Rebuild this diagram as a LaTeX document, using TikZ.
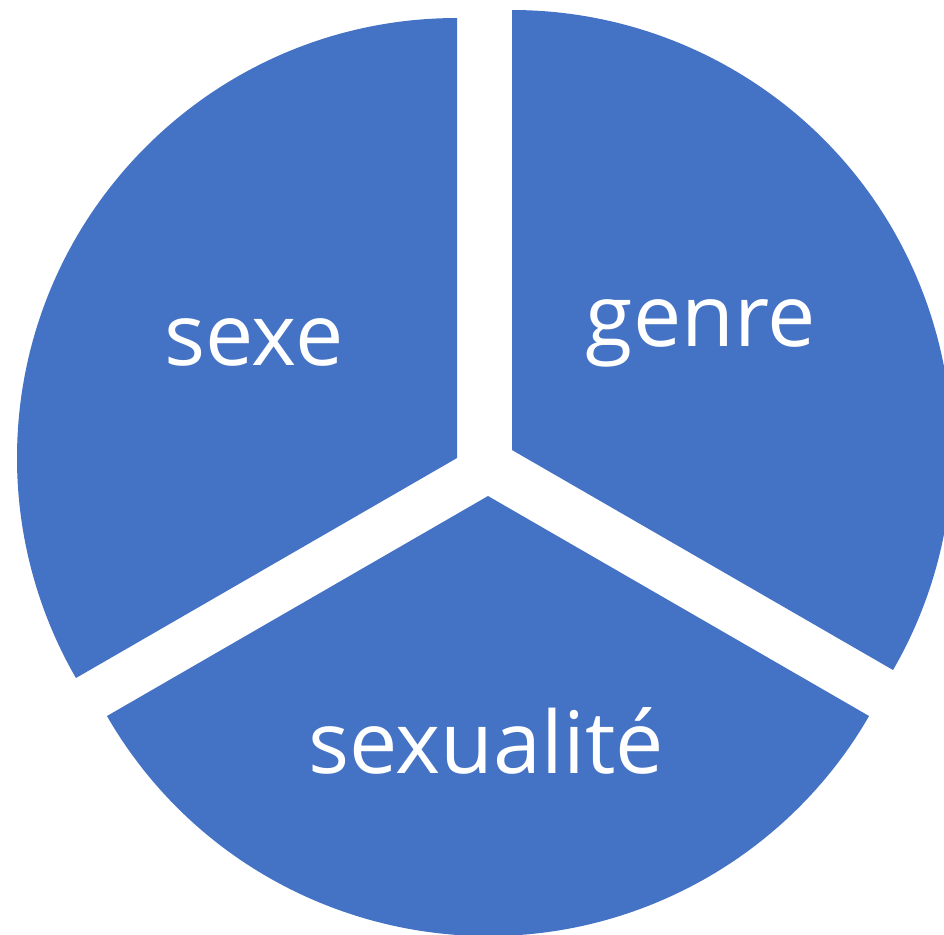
\documentclass[tikz,border=0pt]{standalone}
\usepackage{fontspec}
\setmainfont{Open Sans}
\definecolor{pieblue}{HTML}{4472C4}
\begin{document}
\begin{tikzpicture}[
  slice/.style={fill=pieblue},
  lbl/.style={text=white, font=\fontsize{24.5}{30}\selectfont, anchor=base,
              inner sep=0pt}
]
\useasboundingbox (0,0) rectangle (9.44,-9.34);
\clip (0,0) rectangle (9.44,-9.34);
% ---------------- slice tips ----------------
\coordinate (tsexe) at (4.57,-4.58);
\coordinate (tgenre) at (5.12,-4.50);
\coordinate (tsexu) at (4.88,-4.96);
% ---------------- slices ----------------
\fill[slice] (tsexe) -- ++(90:4.40)
  arc[start angle=90, end angle=210, radius=4.40] -- cycle;
\fill[slice] (tgenre) -- ++(-30:4.40)
  arc[start angle=-30, end angle=90, radius=4.40] -- cycle;
\fill[slice] (tsexu) -- ++(210:4.40)
  arc[start angle=210, end angle=330, radius=4.40] -- cycle;
% ---------------- labels ----------------
\node[lbl] (sexe) at (2.54,-3.65) {sexe};
\node[lbl] (genre) at (7.01,-3.46) {genre};
\node[lbl] (sexualite) at (4.86,-7.73) {sexualité};
\end{tikzpicture}
\end{document}
